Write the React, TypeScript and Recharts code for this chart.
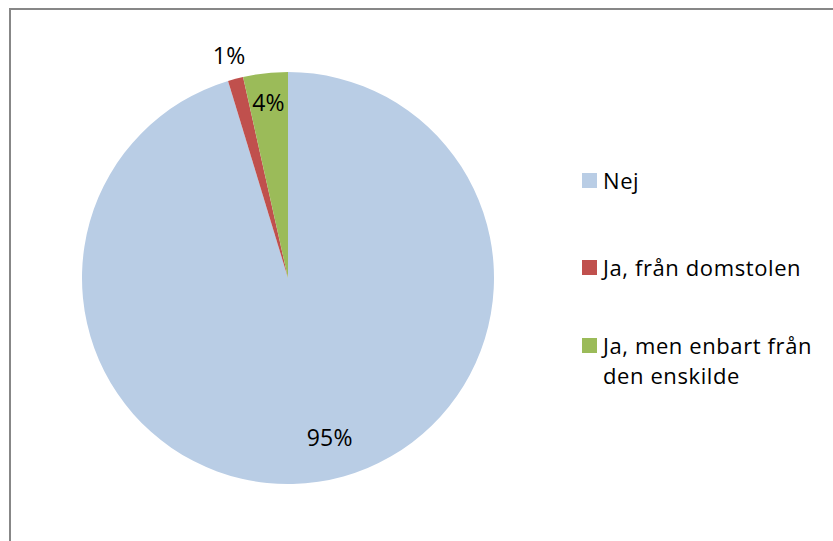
import React from 'react';
import { PieChart, Pie, Cell, Legend } from 'recharts';

const categories = ['Nej', 'Ja, från domstolen', 'Ja, men enbart från den enskilde'];
const legendLines = [['Nej'], ['Ja, från domstolen'], ['Ja, men enbart från', 'den enskilde']];
const shares = [95.3, 1.2, 3.5];
const colors = ['#B9CDE5', '#C0504D', '#9BBB59'];

const data = categories.map((name, i) => ({ name, value: shares[i] }));

const FONT = '"Open Sans", "Noto Sans", sans-serif';
const RAD = Math.PI / 180;
const rowGaps = [57, 48, 0];
// label placement per slice: radius factor and angle nudge (Excel-like)
const labelRadius = [0.796, 1.12, 0.86];
const labelTurn = [6.3, 0, 0];

const renderLabel = (props: any) => {
  const { cx, cy, midAngle, outerRadius, percent, index } = props;
  const r = outerRadius * labelRadius[index];
  const a = (midAngle + labelTurn[index]) * RAD;
  const x = cx + r * Math.cos(-a);
  const y = cy + r * Math.sin(-a);
  return (
    <text
      x={x}
      y={y}
      fill="#000"
      textAnchor="middle"
      dominantBaseline="central"
      fontFamily={FONT}
      fontSize={23}
      letterSpacing={0.3}
    >
      {`${Math.round(percent * 100)}%`}
    </text>
  );
};

const renderLegend = (props: any) => {
  const { payload } = props;
  return (
    <div style={{ fontFamily: FONT, fontSize: 22, letterSpacing: 0.6, color: '#000' }}>
      {payload.map((entry: any, i: number) => (
        <div key={entry.value} style={{ display: 'flex', alignItems: 'flex-start', marginBottom: rowGaps[i] }}>
          <span
            style={{
              display: 'inline-block',
              width: 15,
              height: 15,
              background: colors[i],
              marginTop: 8,
              marginRight: 6,
              flexShrink: 0,
            }}
          />
          <span style={{ lineHeight: '30px' }}>
            {legendLines[i].map((l) => (
              <div key={l}>{l}</div>
            ))}
          </span>
        </div>
      ))}
    </div>
  );
};

export default function App() {
  return (
    <div style={{ position: 'absolute', left: 0, top: 0, width: 833, height: 541, overflow: 'hidden', background: '#fff' }}>
      <div
        style={{
          position: 'absolute',
          left: 9,
          top: 8,
          width: 900,
          height: 600,
          borderLeft: '2px solid #878787',
          borderTop: '2px solid #878787',
        }}
      />
      <div style={{ position: 'absolute', left: 0, top: 0 }}>
        <PieChart width={833} height={541} margin={{ top: 0, right: 0, bottom: 0, left: 0 }}>
          <Pie
            data={data}
            dataKey="value"
            nameKey="name"
            cx={288}
            cy={278}
            outerRadius={206}
            startAngle={90}
            endAngle={-270}
            stroke="none"
            label={renderLabel}
            labelLine={false}
            isAnimationActive={false}
          >
            {data.map((d, i) => (
              <Cell key={d.name} fill={colors[i]} />
            ))}
          </Pie>
          <Legend
            layout="vertical"
            verticalAlign="top"
            align="right"
            content={renderLegend}
            wrapperStyle={{ left: 582, top: 165, width: 250 }}
          />
        </PieChart>
      </div>
    </div>
  );
}
